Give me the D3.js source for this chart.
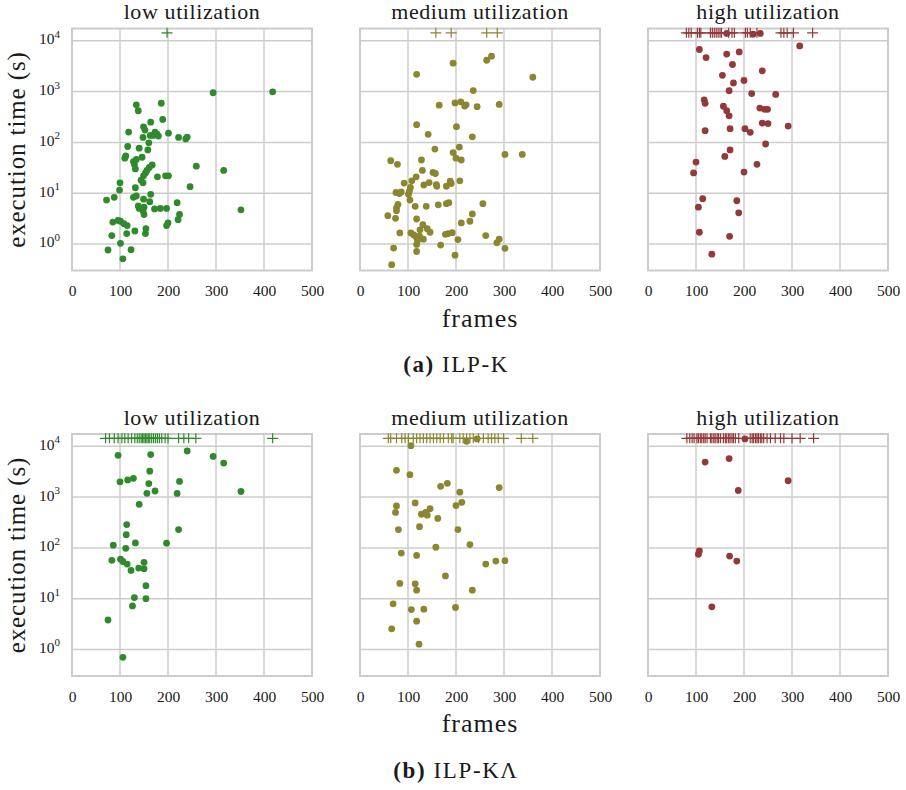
<!DOCTYPE html>
<html>
<head>
<meta charset="utf-8">
<script src="https://cdn.jsdelivr.net/npm/d3@7"></script>
<style>
  body { margin: 0; background: #fff; }
  text { font-family: "Liberation Serif", "Times New Roman", serif; fill: #1a1a1a; }
</style>
</head>
<body>
<svg id="chart" width="906" height="790"></svg>
<script>
// Execution time of solved instances: [frames, seconds]
const ilpKLow = [[294,950],[418,990],[134,550],[138,420],[186,590],[189,283],[164,250],[149,203],[152,175],[118,160],[173,160],[177,145],[169,137],[180,133],[163,137],[201,152],[148,125],[222,125],[237,117],[240,127],[160,98],[116,83],[140,77],[158,71],[146,51],[112,54],[110,49],[134,46],[128,42],[130,37],[167,36],[161,32],[259,34],[316,28],[132,30],[156,28],[153,25],[149,22],[178,21],[195,22],[201,22],[144,18],[148,16],[100,16],[246,13.4],[99,11.5],[132,12.8],[72,7.3],[88,8.3],[164,9.5],[128,8.3],[134,8.8],[162,6.8],[149,7.6],[138,5.6],[150,5.3],[148,4.5],[140,5.0],[172,4.9],[184,5.0],[197,5.0],[150,3.8],[219,6.5],[352,4.7],[224,3.8],[221,3.0],[200,2.6],[197,2.3],[85,2.7],[96,2.9],[101,2.8],[108,2.5],[115,2.3],[114,1.6],[131,1.8],[154,2.0],[153,1.6],[83,1.46],[101,1.03],[75,0.76],[123,0.77],[106,0.51]];
const ilpKMedium = [[274,5000],[264,4150],[194,3630],[118,2190],[360,1920],[236,1050],[198,600],[210,630],[218,520],[221,550],[165,540],[244,505],[290,560],[118,223],[201,204],[142,144],[234,129],[156,74],[207,81],[194,63],[302,58],[338,58],[200,49],[211,45],[64,43.5],[78,37],[128,45],[130,28],[152,25.6],[157,24.4],[117,21],[108,17.5],[92,15.8],[133,14.5],[144,16.2],[159,14.8],[160,13.7],[188,17.2],[190,15.5],[180,13.7],[208,17.5],[105,13],[103,11],[75,10.3],[82,9.8],[86,10.6],[101,9.5],[104,7.3],[79,6.0],[76,5.1],[76,4.5],[58,3.6],[74,3.2],[115,5.5],[138,5.5],[163,5.9],[180,6.2],[185,6.5],[256,6.2],[234,3.9],[229,2.8],[211,2.6],[118,3.1],[131,2.4],[125,1.9],[140,2.0],[146,1.7],[106,1.65],[112,1.5],[117,1.37],[124,1.42],[132,1.24],[120,1.18],[118,0.98],[118,0.71],[83,1.65],[178,1.55],[192,1.67],[184,1.6],[204,1.22],[168,0.95],[262,1.46],[290,1.24],[285,1.05],[302,0.82],[198,0.6],[70,0.83],[66,0.39]];
const ilpKHigh = [[164,14000],[219,13500],[234,14000],[316,7950],[107,6760],[164,5480],[190,6060],[121,4690],[176,3420],[238,2570],[155,2090],[200,1660],[178,1480],[169,1040],[216,915],[266,880],[117,690],[119,590],[157,515],[164,420],[169,333],[233,475],[243,447],[249,447],[238,240],[250,235],[292,210],[119,170],[171,186],[202,186],[213,158],[245,93],[171,71],[160,53],[100,41],[227,37],[95,25],[200,26],[114,7.8],[105,5.3],[185,7.1],[189,4.1],[107,1.7],[170,1.41],[133,0.63]];
const ilpKLambdaLow = [[96,6650],[164,6890],[240,8100],[294,6330],[316,4690],[162,3250],[100,2000],[116,2180],[128,2350],[160,1850],[224,2040],[156,1190],[173,1320],[219,1180],[352,1290],[140,720],[114,288],[113,182],[222,230],[86,113],[132,125],[112,98],[197,124],[83,57],[101,60],[106,54],[115,48],[123,36],[139,40],[150,39],[150,52],[154,18],[130,10.5],[154,10],[126,7.2],[75,3.8],[106,0.7]];
const ilpKLambdaMedium = [[244,14000],[222,12600],[106,10300],[76,3370],[104,2770],[168,1630],[182,1870],[208,1250],[290,1540],[115,770],[76,670],[74,500],[200,680],[212,790],[128,460],[137,500],[146,590],[140,440],[162,380],[124,262],[80,230],[204,230],[229,116],[158,103],[86,79],[118,71],[262,48],[283,55],[302,56],[178,28],[83,20],[115,19.6],[118,14.7],[234,14.7],[69,7.9],[107,6.1],[133,6.2],[199,6.7],[118,3.6],[66,2.55],[123,1.27]];
const ilpKLambdaHigh = [[202,14000],[119,4900],[169,5750],[292,2100],[188,1350],[107,87],[105,75],[170,69],[185,55],[133,6.9]];

// Frame counts of instances that hit the time limit
const ilpKLowTimeouts = [198];
const ilpKMediumTimeouts = [158,190,264,286];
const ilpKHighTimeouts = [80,85,90,103,107,110,130,134,138,142,146,150,153,168,175,180,203,207,213,227,277,283,290,303,343];
const ilpKLambdaLowTimeouts = [70,78,88,96,104,110,117,124,131,136,140,144,147,150,153,156,159,162,166,170,174,178,182,187,194,200,222,233,243,258,418];
const ilpKLambdaMediumTimeouts = [59,64,76,87,94,101,111,118,125,132,139,146,153,160,167,174,184,191,194,208,215,222,229,236,247,257,267,274,281,288,299,336,360];
const ilpKLambdaHighTimeouts = [81,87,92,96,102,105,109,112,116,119,123,130,133,137,140,144,147,151,157,161,164,168,171,175,178,182,189,213,217,220,224,227,230,234,237,241,248,255,265,276,283,300,317,345];

const timeLimit = 14400;
const utilizations = ["low utilization", "medium utilization", "high utilization"];
const colors = ["#2f8a2b", "#8b8630", "#933939"];
const xTicks = [0, 100, 200, 300, 400, 500];
const yTicks = [1, 10, 100, 1000, 10000];
const captions = [["(a)", " ILP-K"], ["(b)", " ILP-K\u039B"]];

const rows = [
  { solved: [ilpKLow, ilpKMedium, ilpKHigh],
    timeouts: [ilpKLowTimeouts, ilpKMediumTimeouts, ilpKHighTimeouts] },
  { solved: [ilpKLambdaLow, ilpKLambdaMedium, ilpKLambdaHigh],
    timeouts: [ilpKLambdaLowTimeouts, ilpKLambdaMediumTimeouts, ilpKLambdaHighTimeouts] }
];

const svg = d3.select("#chart");
const panelW = 240, panelH = 242;
const panelX = [72, 360, 648];
const rowY = [28.5, 434];
const gridColor = "#cccccc";

const x = d3.scaleLinear().domain([0, 500]).range([0, panelW]);
const y = d3.scaleLog().domain([0.3, 17500]).range([panelH, 0]);

rows.forEach((row, r) => {
  row.solved.forEach((pts, c) => {
    const g = svg.append("g").attr("transform", `translate(${panelX[c]},${rowY[r]})`);

    // grid
    g.append("g").selectAll("line.gx").data(xTicks.slice(1, -1)).join("line")
      .attr("x1", d => x(d)).attr("x2", d => x(d)).attr("y1", 0).attr("y2", panelH)
      .attr("stroke", gridColor).attr("stroke-width", 1.5);
    g.append("g").selectAll("line.gy").data(yTicks).join("line")
      .attr("x1", 0).attr("x2", panelW).attr("y1", d => y(d)).attr("y2", d => y(d))
      .attr("stroke", gridColor).attr("stroke-width", 1.5);
    // frame
    g.append("rect").attr("x", 0).attr("y", 0).attr("width", panelW).attr("height", panelH)
      .attr("fill", "none").attr("stroke", gridColor).attr("stroke-width", 2);

    // x tick labels
    const xa = g.append("g").attr("transform", `translate(0,${panelH})`)
      .call(d3.axisBottom(x).tickValues(xTicks).tickSize(0).tickPadding(0).tickFormat(d3.format("d")));
    xa.select(".domain").remove();
    xa.selectAll("text").attr("y", 25.5).attr("dy", null)
      .style("font-family", '"Liberation Serif", serif').style("font-size", "15.5px").attr("fill", "#1a1a1a");

    // y tick labels (leftmost panel only)
    if (c === 0) {
      const ya = g.append("g")
        .call(d3.axisLeft(y).tickValues(yTicks).tickSize(0).tickPadding(0).tickFormat(() => ""));
      ya.select(".domain").remove();
      ya.selectAll(".tick text").each(function (d) {
        const t = d3.select(this).attr("x", -12).attr("dy", "0.3em")
          .style("font-family", '"Liberation Serif", serif').attr("fill", "#1a1a1a");
        t.append("tspan").style("font-size", "15.5px").text("10");
        t.append("tspan").style("font-size", "11px").attr("dy", "-0.6em")
          .text(Math.round(Math.log10(d)));
      });
      ya.selectAll(".tick text").attr("text-anchor", "end");
    }

    // title
    g.append("text").attr("x", panelW / 2).attr("y", -9.5).attr("text-anchor", "middle")
      .style("font-size", "22px").style("letter-spacing", "0.6px").text(utilizations[c]);

    // timeouts
    g.append("g").selectAll("path").data(row.timeouts[c]).join("path")
      .attr("d", d => `M${x(d) - 5.5},${y(timeLimit)}h11M${x(d)},${y(timeLimit) - 5}v10`)
      .attr("stroke", colors[c]).attr("stroke-width", 1.2).attr("fill", "none");

    // solved instances
    g.append("g").selectAll("circle").data(pts).join("circle")
      .attr("cx", d => x(d[0])).attr("cy", d => y(d[1])).attr("r", 3.4)
      .attr("fill", colors[c]);
  });

  // shared axis titles
  svg.append("text")
    .attr("transform", `translate(24.5,${rowY[r] + panelH / 2}) rotate(-90)`)
    .attr("text-anchor", "middle").style("font-size", "25px").style("letter-spacing", "0.9px")
    .text("execution time (s)");
  svg.append("text").attr("x", panelX[1] + panelW / 2).attr("y", rowY[r] + panelH + 56)
    .attr("text-anchor", "middle").style("font-size", "26px").style("letter-spacing", "1px")
    .text("frames");

  // subfigure caption
  const cap = svg.append("text").attr("x", 456).attr("y", rowY[r] + panelH + 101.5)
    .attr("text-anchor", "middle").style("font-size", "23px").style("letter-spacing", "1.6px");
  cap.append("tspan").style("font-weight", "bold").text(captions[r][0]);
  cap.append("tspan").text(captions[r][1]);
});
</script>
</body>
</html>
